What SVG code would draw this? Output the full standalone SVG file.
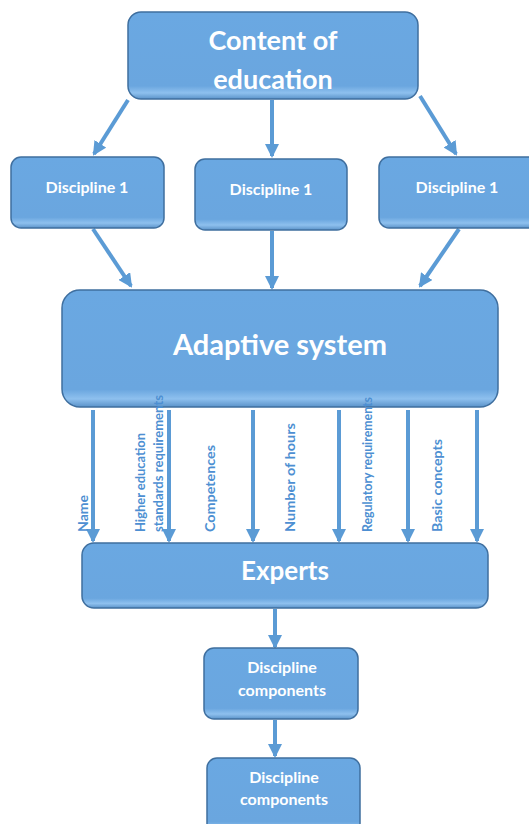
<svg xmlns="http://www.w3.org/2000/svg" width="529" height="824" viewBox="0 0 529 824">
<style>
.box{fill:url(#g);stroke:#3f6f9f;stroke-width:1.5}
.t{font-family:Lato,"Open Sans",sans-serif;font-weight:bold;fill:#ffffff;text-anchor:middle}
.v{font-family:Lato,"Open Sans",sans-serif;font-weight:bold;fill:#4d8fd2;font-size:14px}
.c{stroke:#5b9bd5;stroke-width:4;fill:none;marker-end:url(#a)}
</style>
<defs>
<linearGradient id="g" x1="0" y1="0" x2="0" y2="1">
<stop offset="0" stop-color="#6aa8e2"/>
<stop offset="0.85" stop-color="#6aa6df"/>
<stop offset="0.93" stop-color="#8ec0ee"/>
<stop offset="1" stop-color="#5b93c9"/>
</linearGradient>
<marker id="a" markerUnits="userSpaceOnUse" markerWidth="14" markerHeight="14" viewBox="0 0 14 14" refX="12" refY="7" orient="auto">
<path d="M0,0 L14,7 L0,14 Z" fill="#5b9bd5"/>
</marker>
</defs>
<g id="connectors">
<line class="c" x1="128" y1="100" x2="94" y2="154"/>
<line class="c" x1="272" y1="100" x2="272" y2="156"/>
<line class="c" x1="420" y1="96" x2="456" y2="154"/>
<line class="c" x1="93" y1="229" x2="131" y2="286"/>
<line class="c" x1="272" y1="231" x2="272" y2="288"/>
<line class="c" x1="459" y1="229" x2="420" y2="286"/>
<line class="c" x1="93" y1="410" x2="93" y2="541"/>
<line class="c" x1="169" y1="410" x2="169" y2="541"/>
<line class="c" x1="253" y1="410" x2="253" y2="541"/>
<line class="c" x1="339" y1="410" x2="339" y2="541"/>
<line class="c" x1="408" y1="410" x2="408" y2="541"/>
<line class="c" x1="477" y1="410" x2="477" y2="541"/>
<line class="c" x1="275" y1="609" x2="275" y2="647"/>
<line class="c" x1="275" y1="720" x2="275" y2="756"/>
</g>
<g id="n_content">
<rect class="box" x="128" y="12" width="290" height="87" rx="13"/>
<text class="t" x="273" y="50" font-size="27">Content of</text>
<text class="t" x="273" y="89" font-size="27">education</text>
</g>
<g id="n_disc1">
<rect class="box" x="11" y="157" width="153" height="71" rx="10"/>
<text class="t" x="87" y="193" font-size="16">Discipline 1</text>
</g>
<g id="n_disc2">
<rect class="box" x="195" y="159" width="152" height="71" rx="10"/>
<text class="t" x="271" y="195" font-size="16">Discipline 1</text>
</g>
<g id="n_disc3">
<rect class="box" x="379" y="157" width="160" height="71" rx="10"/>
<text class="t" x="457" y="193" font-size="16">Discipline 1</text>
</g>
<g id="n_adaptive">
<rect class="box" x="62" y="290" width="436" height="117" rx="18"/>
<text class="t" x="280" y="355" font-size="29">Adaptive system</text>
</g>
<g id="labels">
<text class="v" transform="translate(88,532) rotate(-90)" textLength="37" lengthAdjust="spacingAndGlyphs">Name</text>
<text class="v" transform="translate(145,532) rotate(-90)" textLength="99" lengthAdjust="spacingAndGlyphs">Higher education</text>
<text class="v" transform="translate(163,532) rotate(-90)" textLength="137" lengthAdjust="spacingAndGlyphs">standards requirements</text>
<text class="v" transform="translate(215,532) rotate(-90)" textLength="87" lengthAdjust="spacingAndGlyphs">Competences</text>
<text class="v" transform="translate(295,532) rotate(-90)" textLength="109" lengthAdjust="spacingAndGlyphs">Number of hours</text>
<text class="v" transform="translate(372,532) rotate(-90)" textLength="135" lengthAdjust="spacingAndGlyphs">Regulatory requirements</text>
<text class="v" transform="translate(442,532) rotate(-90)" textLength="93" lengthAdjust="spacingAndGlyphs">Basic concepts</text>
</g>
<g id="n_experts">
<rect class="box" x="82" y="543" width="406" height="65" rx="12"/>
<text class="t" x="285" y="580" font-size="26">Experts</text>
</g>
<g id="n_comp1">
<rect class="box" x="204" y="648" width="154" height="71" rx="10"/>
<text class="t" x="282" y="673" font-size="16">Discipline</text>
<text class="t" x="282" y="696" font-size="16">components</text>
</g>
<g id="n_comp2">
<rect class="box" x="207" y="758" width="153" height="75" rx="10"/>
<text class="t" x="284" y="783" font-size="16">Discipline</text>
<text class="t" x="284" y="805" font-size="16">components</text>
</g>
</svg>
